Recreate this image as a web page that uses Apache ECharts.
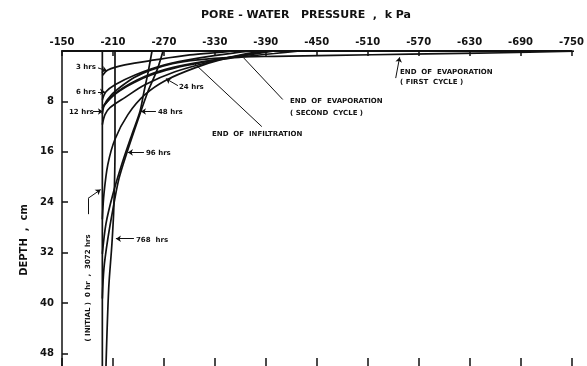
<!DOCTYPE html>
<html><head><meta charset="utf-8">
<script src="https://cdn.jsdelivr.net/npm/echarts@6/dist/echarts.min.js"></script>
<style>html,body{margin:0;padding:0;background:#fff}#c{width:587px;height:366px}</style>
</head><body><div id="c"></div>
<script>
// Pore-water pressure (kPa) axis ticks and depth (cm) ticks
const pressureTicks = [-150,-210,-270,-330,-390,-450,-510,-570,-630,-690,-750];
const depthTicks = [0,8,16,24,32,40,48];

// Profiles: [pressure kPa, depth cm]
const initial0hr3072 = [[-197.5,0],[-197.5,50]];
const hrs768 = [[-212.4,0],[-212.4,15.6],[-211,25],[-208.8,30.6],[-205,37.7],[-201.8,50]];
const hrs96 = [[-269,0],[-262,3.0],[-251,6.5],[-239.5,10.9],[-226.5,16.1],[-217,20.3],[-210,25.1],[-204,29.8],[-199.4,34.5],[-197.5,39.3]];
const hrs48 = [[-256,0],[-251.5,3.3],[-246.5,6.5],[-241.8,9.6],[-232.4,13.2],[-220.6,17.9],[-210,22.7],[-201.8,27.4],[-197.5,32.2]];
const hrs24 = [[-395,0],[-371,0.47],[-336,1.42],[-306.5,2.68],[-273.5,4.57],[-247.6,6.94],[-227.6,10.1],[-212.4,14.0],[-204,18],[-199.4,22.7],[-197.5,26.7]];
const hrs12 = [[-390,0],[-365,0.47],[-324,1.73],[-283,3.3],[-247.6,5.36],[-224,7.4],[-206.5,9.0],[-200.6,10.1],[-197.5,11.7]];
const hrs6 = [[-375,0],[-353.5,0.3],[-312,1.1],[-271,2.2],[-236,3.8],[-212.4,5.36],[-201.8,6.47],[-197.5,7.73]];
const hrs3 = [[-350,0],[-341.8,0.16],[-300.6,0.63],[-259.4,1.42],[-224,2.2],[-204,3.0],[-197.5,3.9]];
const endInfiltration = [[-400,0],[-360,0.8],[-330,1.4],[-306,2.05],[-280,2.8],[-255,3.8],[-235,5.0],[-218,6.3],[-206,7.6],[-197.5,9]];
const endEvapSecond = [[-430,0],[-400,0.4],[-370,0.8],[-345,1.2],[-320,1.6],[-295,2.2],[-270,3.0],[-248,4.0],[-230,5.2],[-215,6.5],[-205,7.8],[-197.5,9]];
const endEvapFirst = [[-760,0],[-700,0.2],[-640,0.35],[-560,0.5],[-470,0.7],[-400,0.85],[-350,1.0],[-310,1.4],[-280,2.0],[-255,3.0],[-235,4.2],[-220,5.6],[-208,7.0],[-200,8.5],[-197.5,10]];

// leaders: [from [kPa, depth], to [kPa, depth], arrow, curveness]
const leaders = [
  [[-192.4,2.68],[-203,3.15],true,0],
  [[-192.4,6.47],[-200.6,6.47],true,0],
  [[-186.5,9.6],[-198.2,9.6],true,0],
  [[-286.5,5.5],[-272.4,4.4],true,0],
  [[-260.6,9.6],[-243,9.6],true,0],
  [[-246.5,16.1],[-227.6,16.1],true,0],
  [[-234.7,29.8],[-213.5,29.8],true,0],
  [[-180.6,25.9],[-180.6,23.4],false,0],
  [[-180.6,23.4],[-195.5,22.0],true,-0.4],
  [[-385.3,12.0],[-306.5,2.05],false,0],
  [[-410,7.7],[-364,1.1],false,-0.3],
  [[-543,4.3],[-547.6,1.0],true,-0.4]
];

const OFF = 150;
const toU = p => -p - OFF;           // axis runs from -150 (left) to -750 (right)
const conv = arr => arr.map(d => [toU(d[0]), d[1]]);
const F = 'DejaVu Sans';

const profiles = [initial0hr3072, hrs768, hrs96, hrs48, hrs24, hrs12, hrs6, hrs3, endInfiltration, endEvapSecond, endEvapFirst];
const series = profiles.map(p => ({
  type:'line', data: conv(p), showSymbol:false, smooth:0.3,
  lineStyle:{color:'#111', width:1.7}, xAxisIndex:0, yAxisIndex:0, animation:false
}));
series.push({
  type:'line', data:[], xAxisIndex:0, yAxisIndex:0, animation:false,
  markLine:{silent:true, animation:false, symbolSize:5, label:{show:false},
    lineStyle:{color:'#111', width:1, type:'solid'},
    data: leaders.map(l => [
      {coord:[toU(l[0][0]), l[0][1]], symbol:'none'},
      {coord:[toU(l[1][0]), l[1][1]], symbol: l[2] ? 'arrow' : 'none', lineStyle:{curveness:l[3]}}
    ])}
});

const axisTextX = {fontFamily:F, fontWeight:'bold', fontSize:10, color:'#111'};
const chart = echarts.init(document.getElementById('c'), null, {renderer:'canvas'});
const txt = (x,y,t,opt) => Object.assign({type:'text', x, y, style:{text:t, font:'bold 7px '+F, fill:'#111', align:'left', verticalAlign:'middle'}}, opt||{});
chart.setOption({
  backgroundColor:'#fff',
  animation:false,
  grid:{left:62, right:15, top:51, bottom:-2},
  xAxis:[{
    type:'value', position:'top', min:0, max:600, interval:60,
    axisLine:{show:true, lineStyle:{color:'#111', width:2}},
    axisTick:{show:true, inside:true, length:5, lineStyle:{color:'#111', width:1.5}},
    axisLabel:{margin:4, formatter:v => String(-(v+OFF)), ...axisTextX},
    splitLine:{show:false}
  },{
    type:'value', position:'bottom', min:0, max:600, interval:60,
    axisLine:{show:false},
    axisTick:{show:true, inside:true, length:8, lineStyle:{color:'#111', width:1.5}},
    axisLabel:{show:false}, splitLine:{show:false}
  }],
  yAxis:[{
    type:'value', inverse:true, min:0, max:50, interval:8,
    axisLine:{show:true, lineStyle:{color:'#111', width:1.5}},
    axisTick:{show:true, inside:true, length:6, lineStyle:{color:'#111', width:1.5}},
    axisLabel:{showMinLabel:false, showMaxLabel:false, margin:8, fontFamily:F, fontWeight:'bold', fontSize:10, color:'#111'},
    splitLine:{show:false}
  }],
  series,
  graphic:[
    {type:'text', x:306, y:15, style:{text:'PORE - WATER   PRESSURE  ,  k Pa', font:'bold 11px '+F, fill:'#111', align:'center', verticalAlign:'middle'}},
    {type:'text', x:24, y:240, rotation:Math.PI/2, style:{text:'DEPTH  ,  cm', font:'bold 10px '+F, fill:'#111', align:'center', verticalAlign:'middle'}},
    txt(76,67,'3 hrs'), txt(76,92,'6 hrs'), txt(69,112,'12 hrs'),
    txt(179,87,'24 hrs'), txt(158,112,'48 hrs'), txt(146,153,'96 hrs'), txt(136,240,'768  hrs'),
    {type:'text', x:88, y:288, rotation:Math.PI/2, style:{text:'( INITIAL )  0 hr  ,  3072 hrs', font:'bold 7px '+F, fill:'#111', align:'center', verticalAlign:'middle'}},
    txt(212,134,'END  OF  INFILTRATION'),
    txt(290,101,'END  OF  EVAPORATION'), txt(290,113,'( SECOND  CYCLE )'),
    txt(400,72,'END  OF  EVAPORATION'), txt(400,82,'( FIRST  CYCLE )')
  ]
});
</script></body></html>
